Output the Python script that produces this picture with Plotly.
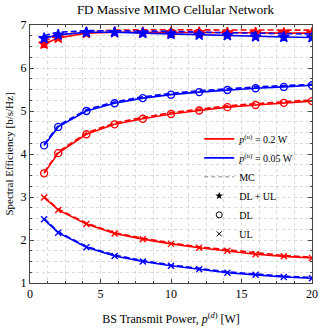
import plotly.graph_objects as go

# x positions of computed points
x_pts = [1, 2, 4, 6, 8, 10, 12, 14, 16, 18, 20]

# p_u = 0.2 W (red)
red_sum = [6.56, 6.70, 6.81, 6.83, 6.83, 6.83, 6.83, 6.82, 6.82, 6.81, 6.81]
red_sum_mc = [6.62, 6.76, 6.85, 6.88, 6.89, 6.89, 6.89, 6.89, 6.88, 6.88, 6.88]
red_dl = [3.55, 4.02, 4.46, 4.69, 4.82, 4.93, 5.01, 5.09, 5.14, 5.19, 5.23]
red_dl_mc = [3.57, 4.05, 4.49, 4.72, 4.85, 4.96, 5.04, 5.12, 5.17, 5.22, 5.26]
red_ul = [2.99, 2.70, 2.37, 2.15, 2.02, 1.91, 1.82, 1.75, 1.67, 1.62, 1.58]
red_ul_mc = [3.01, 2.72, 2.39, 2.17, 2.04, 1.93, 1.84, 1.77, 1.70, 1.64, 1.60]

# p_u = 0.05 W (blue)
blue_sum = [6.69, 6.77, 6.83, 6.83, 6.81, 6.79, 6.77, 6.76, 6.73, 6.72, 6.71]
blue_sum_mc = [6.75, 6.83, 6.87, 6.87, 6.86, 6.85, 6.83, 6.82, 6.81, 6.80, 6.79]
blue_dl = [4.20, 4.63, 5.00, 5.18, 5.30, 5.38, 5.44, 5.49, 5.53, 5.56, 5.60]
blue_dl_mc = [4.22, 4.66, 5.03, 5.21, 5.33, 5.41, 5.47, 5.52, 5.56, 5.59, 5.62]
blue_ul = [2.48, 2.17, 1.83, 1.63, 1.50, 1.40, 1.32, 1.24, 1.19, 1.14, 1.11]
blue_ul_mc = [2.50, 2.19, 1.85, 1.65, 1.52, 1.42, 1.34, 1.26, 1.21, 1.16, 1.13]

x_ticks = [0, 5, 10, 15, 20]
y_ticks = [1, 2, 3, 4, 5, 6, 7]

RED = "#ff0000"
BLUE = "#0000ff"
FONT = "Liberation Serif"

fig = go.Figure()

def add_curve(y, y_mc, color, symbol, msize):
    fig.add_trace(go.Scatter(x=x_pts, y=y_mc, mode="lines",
                             line=dict(color=color, width=1.6, dash="6px,3px"),
                             showlegend=False, hoverinfo="skip"))
    fig.add_trace(go.Scatter(x=x_pts, y=y, mode="lines+markers",
                             line=dict(color=color, width=1.6),
                             marker=dict(symbol=symbol, size=msize, color=color,
                                         line=dict(color=color, width=1.4)),
                             showlegend=False))

for col, s, smc, d, dmc, u, umc in [
    (RED, red_sum, red_sum_mc, red_dl, red_dl_mc, red_ul, red_ul_mc),
    (BLUE, blue_sum, blue_sum_mc, blue_dl, blue_dl_mc, blue_ul, blue_ul_mc),
]:
    add_curve(s, smc, col, "star", 8)
    add_curve(d, dmc, col, "circle-open", 7)
    add_curve(u, umc, col, "x-thin-open", 6)

# legend entries
leg = [
    dict(name="<i>p</i><sup>(<i>u</i>)</sup> = 0.2 W", mode="lines", line=dict(color=RED, width=1.6)),
    dict(name="<i>p</i><sup>(<i>u</i>)</sup> = 0.05 W", mode="lines", line=dict(color=BLUE, width=1.6)),
    dict(name="MC", mode="lines", line=dict(color="#888888", width=1, dash="4px,3px")),
    dict(name="DL + UL", mode="markers", marker=dict(symbol="star", size=6, color="black")),
    dict(name="DL", mode="markers", marker=dict(symbol="circle-open", size=6, color="black", line=dict(width=1))),
    dict(name="UL", mode="markers", marker=dict(symbol="x-thin-open", size=5, color="black", line=dict(color="black", width=1))),
]
for e in leg:
    fig.add_trace(go.Scatter(x=[None], y=[None], showlegend=True, **e))

grid_col = "#d9d9d9"
fig.update_layout(
    width=328, height=334,
    margin=dict(l=30, r=10, t=25, b=47),
    paper_bgcolor="white", plot_bgcolor="white",
    font=dict(family=FONT, size=11, color="black"),
    title=dict(text="FD Massive MIMO Cellular Network", x=0.535, xanchor="center",
               y=0.972, yanchor="middle", font=dict(size=13)),
    showlegend=True,
    legend=dict(x=0.6, y=0.615, xanchor="left", yanchor="top",
                bgcolor="rgba(255,255,255,0)", borderwidth=0,
                font=dict(size=10), tracegroupgap=0, itemwidth=30),
    xaxis=dict(range=[0, 20], tickvals=x_ticks, showline=True, mirror="ticks",
               linecolor="#444", linewidth=1, ticks="inside", ticklen=4,
               tickcolor="#444", tickfont=dict(size=12),
               showgrid=True, gridcolor=grid_col, griddash="dot", gridwidth=1,
               minor=dict(dtick=1.25, showgrid=True, gridcolor=grid_col,
                          griddash="dot", ticks="inside", ticklen=2, tickcolor="#444"),
               zeroline=False,
               title=dict(text="BS Transmit Power, <i>p</i><sup>(<i>d</i>)</sup> [W]",
                          standoff=14, font=dict(size=12))),
    yaxis=dict(range=[1, 7], tickvals=y_ticks, showline=True, mirror="ticks",
               linecolor="#444", linewidth=1, ticks="inside", ticklen=4,
               tickcolor="#444", tickfont=dict(size=12),
               showgrid=True, gridcolor=grid_col, griddash="dot", gridwidth=1,
               minor=dict(dtick=0.25, showgrid=True, gridcolor=grid_col,
                          griddash="dot", ticks="inside", ticklen=2, tickcolor="#444"),
               zeroline=False, automargin=False,
               title=dict(text="Spectral Efficiency [b/s/Hz]", standoff=4,
                          font=dict(size=11))),
)

fig.write_html("out.html", config={"displayModeBar": False},
               post_script="document.body.style.margin='0px';document.body.style.overflow='hidden';")
